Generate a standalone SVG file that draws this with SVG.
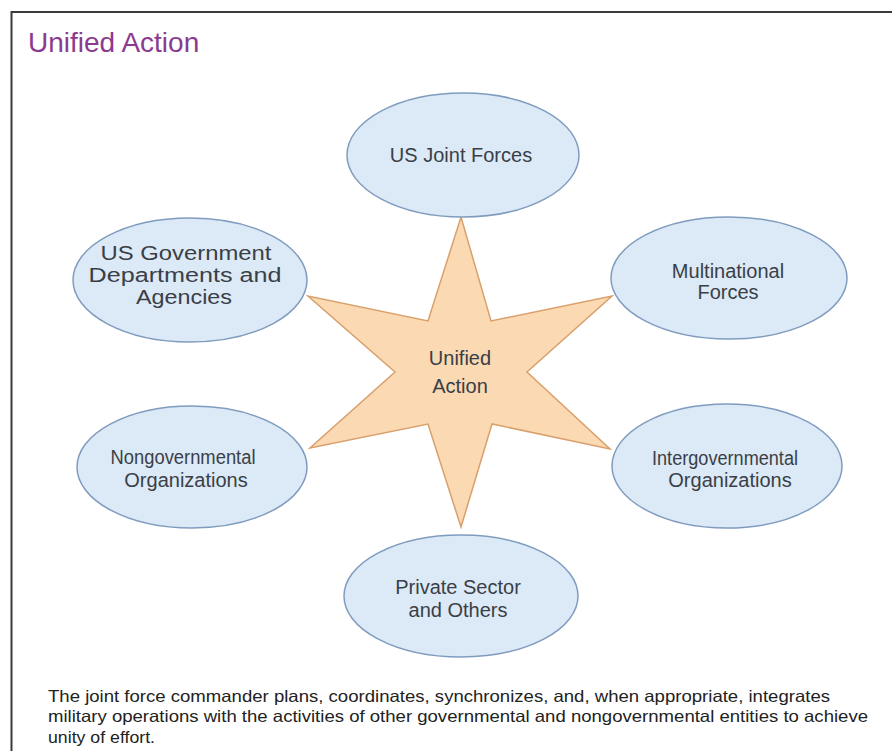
<svg xmlns="http://www.w3.org/2000/svg" width="892" height="751" viewBox="0 0 892 751">
<style>
.node ellipse{fill:#dce9f6;stroke:#7f9cbf;stroke-width:1.5}
.lbl{font-family:"Liberation Sans",Arial,sans-serif;font-size:20px;fill:#3a3f47;text-anchor:middle}
.star{fill:#fbd9b3;stroke:#d9a06c;stroke-width:1.5;stroke-linejoin:miter}
.para{font-family:"Liberation Sans",Arial,sans-serif;font-size:16.5px;fill:#222}
</style>
<rect x="0" y="0" width="892" height="751" fill="#ffffff"/>
<rect x="11.5" y="12" width="900" height="800" fill="none" stroke="#3a3a3a" stroke-width="2"/>
<text x="28" y="52" font-family="'Liberation Sans',Arial,sans-serif" font-size="28" fill="#8b3b8f">Unified Action</text>
<g id="connectors"></g>
<g id="n-center" class="node">
<polygon class="star" points="461,217 491,321 612,296 527,372 610,449 492,424 461,527 428,424 310,448 395,372 308,296 428,321"/>
<text class="lbl" x="460" y="365" font-size="23" fill="#333">Unified</text>
<text class="lbl" x="460" y="393" font-size="23" fill="#333">Action</text>
</g>
<g id="n-joint" class="node">
<ellipse cx="463" cy="155" rx="116" ry="62"/>
<text class="lbl" x="461" y="162">US Joint Forces</text>
</g>
<g id="n-usg" class="node">
<ellipse cx="190" cy="280" rx="117" ry="62"/>
<text class="lbl" x="186" y="260" font-size="22" textLength="171" lengthAdjust="spacingAndGlyphs">US Government</text>
<text class="lbl" x="185" y="282" font-size="22" textLength="193" lengthAdjust="spacingAndGlyphs">Departments and</text>
<text class="lbl" x="184" y="304" font-size="22" textLength="96" lengthAdjust="spacingAndGlyphs">Agencies</text>
</g>
<g id="n-multi" class="node">
<ellipse cx="729" cy="278" rx="118" ry="61"/>
<text class="lbl" x="728" y="278">Multinational</text>
<text class="lbl" x="728" y="299">Forces</text>
</g>
<g id="n-ngo" class="node">
<ellipse cx="192" cy="467" rx="115" ry="61"/>
<text class="lbl" x="183" y="464" textLength="145" lengthAdjust="spacingAndGlyphs">Nongovernmental</text>
<text class="lbl" x="186" y="487">Organizations</text>
</g>
<g id="n-igo" class="node">
<ellipse cx="727" cy="466" rx="115" ry="62"/>
<text class="lbl" x="725" y="465" textLength="146" lengthAdjust="spacingAndGlyphs">Intergovernmental</text>
<text class="lbl" x="730" y="487">Organizations</text>
</g>
<g id="n-private" class="node">
<ellipse cx="461" cy="596" rx="117" ry="61"/>
<text class="lbl" x="458" y="594">Private Sector</text>
<text class="lbl" x="458" y="617">and Others</text>
</g>
<g id="caption">
<text class="para" x="48" y="702" textLength="782" lengthAdjust="spacingAndGlyphs">The joint force commander plans, coordinates, synchronizes, and, when appropriate, integrates</text>
<text class="para" x="48" y="722" textLength="820" lengthAdjust="spacingAndGlyphs">military operations with the activities of other governmental and nongovernmental entities to achieve</text>
<text class="para" x="48" y="743" textLength="107" lengthAdjust="spacingAndGlyphs">unity of effort.</text>
</g>
</svg>
